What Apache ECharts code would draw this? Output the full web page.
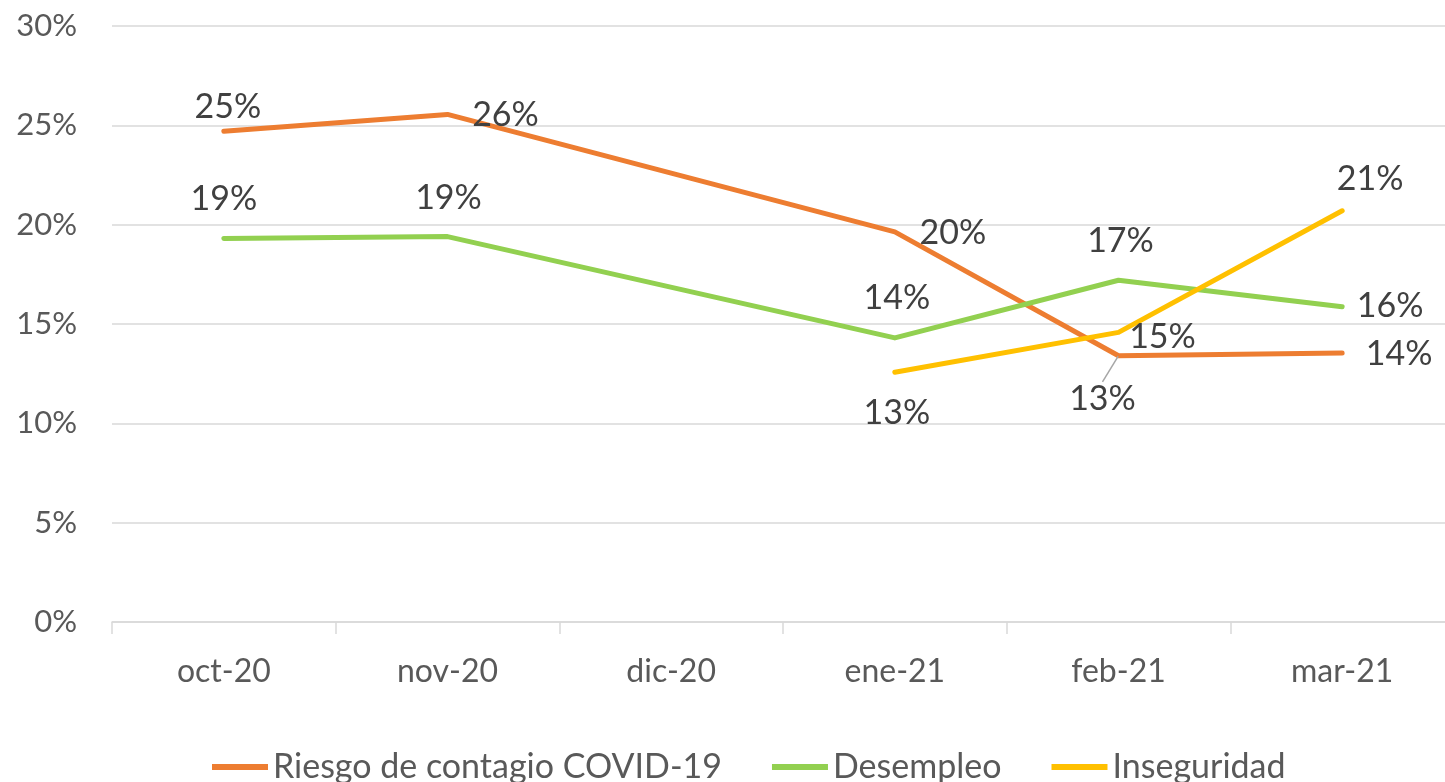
<!DOCTYPE html>
<html>
<head>
<meta charset="utf-8">
<script src="https://cdn.jsdelivr.net/npm/echarts@6/dist/echarts.min.js"></script>
<style>
  html, body { margin: 0; padding: 0; background: #fff; }
  #chart { width: 1445px; height: 782px; }
</style>
</head>
<body>
<div id="chart"></div>
<script>
  // categorias (meses)
  var months = ['oct-20', 'nov-20', 'dic-20', 'ene-21', 'feb-21', 'mar-21'];
  // valores en %
  var riesgo = [24.7, 25.55, null, 19.64, 13.4, 13.54];
  var desempleo = [19.3, 19.4, null, 14.3, 17.2, 15.87];
  var inseguridad = [null, null, null, 12.57, 14.58, 20.7];
  var yTicks = [0, 5, 10, 15, 20, 25, 30];

  // desplazamiento de etiquetas (px) respecto al punto
  var riesgoOff = [[4, -24], [58, 1], null, [58, 1], [-16, 43], [57, 1]];
  var desempleoOff = [[0, -40], [1, -39], null, [2, -40], [2, -39], [48, -1]];
  var inseguridadOff = [null, null, null, [2, 41], [44, 5], [28, -32]];

  var font = 'Lato, "Open Sans", sans-serif';

  function build(values, offs) {
    return values.map(function (v, i) {
      if (v === null) return null;
      return {
        value: v,
        label: { position: 'inside', offset: offs[i] }
      };
    });
  }

  function lineSeries(name, color, values, offs) {
    return {
      name: name,
      type: 'line',
      data: build(values, offs),
      connectNulls: true,
      symbol: 'circle',
      symbolSize: 1,
      itemStyle: { color: color },
      lineStyle: { color: color, width: 5, cap: 'round', join: 'round' },
      label: {
        show: true,
        color: '#404040',
        fontFamily: font,
        fontSize: 34,
        formatter: function (p) { return Math.round(p.value) + '%'; }
      },
      emphasis: { disabled: true },
      animation: false
    };
  }

  var s1 = lineSeries('Riesgo de contagio COVID-19', '#ED7D31', riesgo, riesgoOff);
  // la serie 1 se posiciona con labelLayout (para la linea guia de feb-21)
  s1.data.forEach(function (d) { if (d) d.label.offset = [0, 0]; });
  s1.data[4].labelLine = { show: true, lineStyle: { color: '#a6a6a6', width: 1.5 } };
  s1.labelLayout = function (p) {
    var o = riesgoOff[p.dataIndex];
    return o ? { dx: o[0], dy: o[1] } : {};
  };

  var chart = echarts.init(document.getElementById('chart'));
  var option = {
    backgroundColor: '#fff',
    grid: { left: 112, width: 1342, top: 26, bottom: 160, containLabel: false, outerBoundsMode: 'none' },
    legend: {
      top: 745,
      left: 207,
      icon: 'rect',
      itemWidth: 56,
      itemHeight: 6,
      itemGap: 50,
      textStyle: { color: '#595959', fontFamily: font, fontSize: 34 },
      data: ['Riesgo de contagio COVID-19', 'Desempleo', 'Inseguridad']
    },
    xAxis: {
      type: 'category',
      data: months,
      boundaryGap: true,
      axisLine: { lineStyle: { color: '#d9d9d9', width: 1.5 } },
      axisTick: { show: true, length: 12, lineStyle: { color: '#d9d9d9', width: 1.5 } },
      axisLabel: { color: '#595959', fontFamily: font, fontSize: 32, margin: 34 }
    },
    yAxis: {
      type: 'value',
      min: yTicks[0],
      max: yTicks[yTicks.length - 1],
      interval: 5,
      axisLine: { show: false },
      axisTick: { show: false },
      splitLine: { lineStyle: { color: '#d9d9d9', width: 1.5 } },
      axisLabel: {
        color: '#595959', fontFamily: font, fontSize: 31, margin: 35,
        formatter: '{value}%'
      }
    },
    series: [
      s1,
      lineSeries('Desempleo', '#92D050', desempleo, desempleoOff),
      lineSeries('Inseguridad', '#FFC000', inseguridad, inseguridadOff)
    ]
  };
  chart.setOption(option);
</script>
</body>
</html>
